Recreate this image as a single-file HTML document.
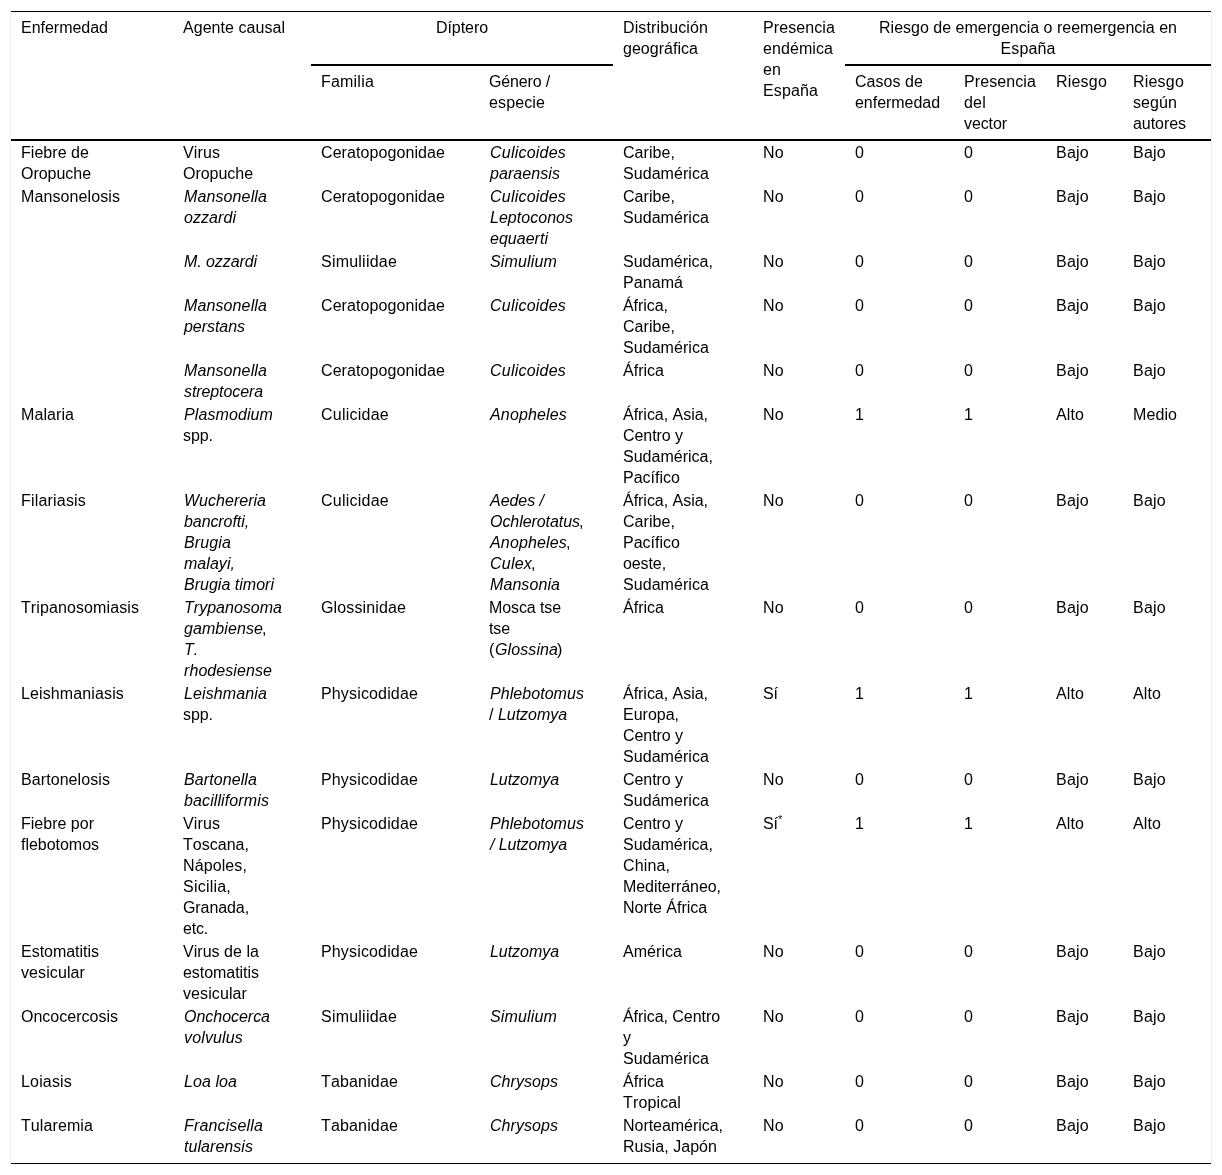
<!DOCTYPE html>
<html lang="es">
<head>
<meta charset="utf-8">
<title>Tabla</title>
<style>
html,body{margin:0;padding:0;background:#fff;}
body{width:1222px;height:1175px;overflow:hidden;font-family:"Liberation Sans",Arial,sans-serif;font-size:16px;line-height:21px;color:#000;font-kerning:none;font-variant-ligatures:none;}
table{position:absolute;left:10px;top:11px;width:1202px;border-collapse:separate;border-spacing:0;table-layout:fixed;border-left:1px solid #eee;border-right:1px solid #eee;}
th,td{font-weight:normal;text-align:left;vertical-align:top;padding:1px 5px 1px 10px;white-space:nowrap;}
thead th{padding-top:5px;padding-bottom:5px;}
thead tr.h1 th{border-top:1px solid #000;}
thead tr.h1 th.grp{text-align:center;padding-left:8px;padding-right:8px;border-bottom:2px solid #000;}
thead tr.h1 th.rs{border-bottom:2px solid #000;}
thead tr.h2 th{border-bottom:2px solid #000;}
tbody tr:last-child td{padding-bottom:6px;border-bottom:1px solid #000;}
i{font-style:italic;position:relative;left:1px;}
sup{font-size:11px;line-height:0;vertical-align:baseline;position:relative;top:-6.4px;}

</style>
</head>
<body>
<table>
<colgroup>
<col style="width:162px"><col style="width:138px"><col style="width:168px"><col style="width:134px"><col style="width:140px"><col style="width:92px"><col style="width:109px"><col style="width:92px"><col style="width:77px"><col style="width:88px">
</colgroup>
<thead>
<tr class="h1">
<th class="rs" rowspan="2"><span style="letter-spacing:-0.016px">Enfermedad</span></th>
<th class="rs" rowspan="2"><span style="letter-spacing:0.046px">Agente causal</span></th>
<th class="grp" colspan="2"><span style="letter-spacing:-0.067px">Díptero</span></th>
<th class="rs" rowspan="2"><span style="letter-spacing:0.118px">Distribución</span><br><span style="letter-spacing:0.028px">geográfica</span></th>
<th class="rs" rowspan="2"><span style="letter-spacing:0.095px">Presencia</span><br><span style="letter-spacing:0.078px">endémica</span><br><span style="letter-spacing:0.102px">en</span><br><span style="letter-spacing:0.122px">España</span></th>
<th class="grp" colspan="4">Riesgo de emergencia o reemergencia en<br><span style="letter-spacing:0.122px">España</span></th>
</tr>
<tr class="h2">
<th><span style="letter-spacing:0.205px">Familia</span></th>
<th><span style="letter-spacing:-0.157px">Género /</span><br><span style="letter-spacing:0.122px">especie</span></th>
<th><span style="letter-spacing:0.051px">Casos de</span><br><span style="letter-spacing:-0.039px">enfermedad</span></th>
<th><span style="letter-spacing:0.095px">Presencia</span><br><span style="letter-spacing:0.216px">del</span><br><span style="letter-spacing:-0.095px">vector</span></th>
<th><span style="letter-spacing:0.199px">Riesgo</span></th>
<th><span style="letter-spacing:0.199px">Riesgo</span><br><span style="letter-spacing:0.081px">según</span><br><span style="letter-spacing:-0.052px">autores</span></th>
</tr>
</thead>
<tbody>
<tr><td><span style="letter-spacing:0.045px">Fiebre de</span><br><span style="letter-spacing:-0.033px">Oropuche</span></td><td><span style="letter-spacing:0.109px">Virus</span><br><span style="letter-spacing:-0.033px">Oropuche</span></td><td><span style="letter-spacing:0.082px">Ceratopogonidae</span></td><td><i style="letter-spacing:0.219px">Culicoides</i><br><i style="letter-spacing:0.069px">paraensis</i></td><td><span style="letter-spacing:0.060px">Caribe,</span><br><span style="letter-spacing:0.062px">Sudamérica</span></td><td><span style="letter-spacing:0.273px">No</span></td><td><span style="letter-spacing:0.102px">0</span></td><td><span style="letter-spacing:0.102px">0</span></td><td><span style="letter-spacing:0.244px">Bajo</span></td><td><span style="letter-spacing:0.244px">Bajo</span></td></tr>
<tr><td><span style="letter-spacing:0.098px">Mansonelosis</span></td><td><i style="letter-spacing:0.117px">Mansonella</i><br><i style="letter-spacing:0.060px">ozzardi</i></td><td><span style="letter-spacing:0.082px">Ceratopogonidae</span></td><td><i style="letter-spacing:0.219px">Culicoides</i><br><i style="letter-spacing:0.027px">Leptoconos</i><br><i style="letter-spacing:0.022px">equaerti</i></td><td><span style="letter-spacing:0.060px">Caribe,</span><br><span style="letter-spacing:0.062px">Sudamérica</span></td><td><span style="letter-spacing:0.273px">No</span></td><td><span style="letter-spacing:0.102px">0</span></td><td><span style="letter-spacing:0.102px">0</span></td><td><span style="letter-spacing:0.244px">Bajo</span></td><td><span style="letter-spacing:0.244px">Bajo</span></td></tr>
<tr><td></td><td><i style="letter-spacing:-0.080px">M. ozzardi</i></td><td><span style="letter-spacing:0.219px">Simuliidae</span></td><td><i style="letter-spacing:0.151px">Simulium</i></td><td><span style="letter-spacing:0.016px">Sudamérica,</span><br><span style="letter-spacing:0.068px">Panamá</span></td><td><span style="letter-spacing:0.273px">No</span></td><td><span style="letter-spacing:0.102px">0</span></td><td><span style="letter-spacing:0.102px">0</span></td><td><span style="letter-spacing:0.244px">Bajo</span></td><td><span style="letter-spacing:0.244px">Bajo</span></td></tr>
<tr><td></td><td><i style="letter-spacing:0.117px">Mansonella</i><br><i style="letter-spacing:-0.046px">perstans</i></td><td><span style="letter-spacing:0.082px">Ceratopogonidae</span></td><td><i style="letter-spacing:0.219px">Culicoides</i></td><td><span style="letter-spacing:-0.049px">África,</span><br><span style="letter-spacing:0.060px">Caribe,</span><br><span style="letter-spacing:0.062px">Sudamérica</span></td><td><span style="letter-spacing:0.273px">No</span></td><td><span style="letter-spacing:0.102px">0</span></td><td><span style="letter-spacing:0.102px">0</span></td><td><span style="letter-spacing:0.244px">Bajo</span></td><td><span style="letter-spacing:0.244px">Bajo</span></td></tr>
<tr><td></td><td><i style="letter-spacing:0.117px">Mansonella</i><br><i style="letter-spacing:-0.094px">streptocera</i></td><td><span style="letter-spacing:0.082px">Ceratopogonidae</span></td><td><i style="letter-spacing:0.219px">Culicoides</i></td><td><span style="letter-spacing:0.017px">África</span></td><td><span style="letter-spacing:0.273px">No</span></td><td><span style="letter-spacing:0.102px">0</span></td><td><span style="letter-spacing:0.102px">0</span></td><td><span style="letter-spacing:0.244px">Bajo</span></td><td><span style="letter-spacing:0.244px">Bajo</span></td></tr>
<tr><td><span style="letter-spacing:0.077px">Malaria</span></td><td><i style="letter-spacing:0.097px">Plasmodium</i><br><span style="letter-spacing:-0.061px">spp.</span></td><td><span style="letter-spacing:0.243px">Culicidae</span></td><td><i style="letter-spacing:0.154px">Anopheles</i></td><td><span style="letter-spacing:-0.028px">África, Asia,</span><br><span style="letter-spacing:-0.059px">Centro y</span><br><span style="letter-spacing:0.016px">Sudamérica,</span><br><span style="letter-spacing:0.011px">Pacífico</span></td><td><span style="letter-spacing:0.273px">No</span></td><td><span style="letter-spacing:0.102px">1</span></td><td><span style="letter-spacing:0.102px">1</span></td><td><span style="letter-spacing:0.107px">Alto</span></td><td><span style="letter-spacing:0.084px">Medio</span></td></tr>
<tr><td><span style="letter-spacing:0.188px">Filariasis</span></td><td><i style="letter-spacing:0.020px">Wuchereria</i><br><i style="letter-spacing:-0.081px">bancrofti,</i><br><i style="letter-spacing:0.125px">Brugia</i><br><i style="letter-spacing:0.046px">malayi,</i><br><i style="letter-spacing:0.015px">Brugia timori</i></td><td><span style="letter-spacing:0.243px">Culicidae</span></td><td><i style="letter-spacing:-0.037px">Aedes /</i><br><i style="letter-spacing:-0.059px">Ochlerotatus</i><span style="letter-spacing:-0.445px">,</span><br><i style="letter-spacing:0.154px">Anopheles</i><span style="letter-spacing:-0.445px">,</span><br><i style="letter-spacing:0.219px">Culex</i><span style="letter-spacing:-0.445px">,</span><br><i style="letter-spacing:0.078px">Mansonia</i></td><td><span style="letter-spacing:-0.028px">África, Asia,</span><br><span style="letter-spacing:0.060px">Caribe,</span><br><span style="letter-spacing:0.011px">Pacífico</span><br><span style="letter-spacing:-0.098px">oeste,</span><br><span style="letter-spacing:0.062px">Sudamérica</span></td><td><span style="letter-spacing:0.273px">No</span></td><td><span style="letter-spacing:0.102px">0</span></td><td><span style="letter-spacing:0.102px">0</span></td><td><span style="letter-spacing:0.244px">Bajo</span></td><td><span style="letter-spacing:0.244px">Bajo</span></td></tr>
<tr><td><span style="letter-spacing:0.101px">Tripanosomiasis</span></td><td><i style="letter-spacing:0.016px">Trypanosoma</i><br><i style="letter-spacing:0.081px">gambiense</i><span style="letter-spacing:-0.445px">,</span><br><i style="letter-spacing:-0.109px">T.</i><br><i style="letter-spacing:0.075px">rhodesiense</i></td><td><span style="letter-spacing:0.127px">Glossinidae</span></td><td><span style="letter-spacing:-0.102px">Mosca tse</span><br><span style="letter-spacing:-0.115px">tse</span><br><span style="letter-spacing:-0.328px">(</span><i style="letter-spacing:0.094px">Glossina</i><span style="letter-spacing:-0.328px">)</span></td><td><span style="letter-spacing:0.017px">África</span></td><td><span style="letter-spacing:0.273px">No</span></td><td><span style="letter-spacing:0.102px">0</span></td><td><span style="letter-spacing:0.102px">0</span></td><td><span style="letter-spacing:0.244px">Bajo</span></td><td><span style="letter-spacing:0.244px">Bajo</span></td></tr>
<tr><td><span style="letter-spacing:0.124px">Leishmaniasis</span></td><td><i style="letter-spacing:0.117px">Leishmania</i><br><span style="letter-spacing:-0.061px">spp.</span></td><td><span style="letter-spacing:0.152px">Physicodidae</span></td><td><i style="letter-spacing:0.055px">Phlebotomus</i><br><span style="letter-spacing:-0.445px">/ </span><i style="letter-spacing:-0.046px">Lutzomya</i></td><td><span style="letter-spacing:-0.028px">África, Asia,</span><br><span style="letter-spacing:-0.006px">Europa,</span><br><span style="letter-spacing:-0.059px">Centro y</span><br><span style="letter-spacing:0.062px">Sudamérica</span></td><td><span style="letter-spacing:-0.059px">Sí</span></td><td><span style="letter-spacing:0.102px">1</span></td><td><span style="letter-spacing:0.102px">1</span></td><td><span style="letter-spacing:0.107px">Alto</span></td><td><span style="letter-spacing:0.107px">Alto</span></td></tr>
<tr><td><span style="letter-spacing:0.079px">Bartonelosis</span></td><td><i style="letter-spacing:0.095px">Bartonella</i><br><i style="letter-spacing:0.110px">bacilliformis</i></td><td><span style="letter-spacing:0.152px">Physicodidae</span></td><td><i style="letter-spacing:-0.046px">Lutzomya</i></td><td><span style="letter-spacing:-0.059px">Centro y</span><br><span style="letter-spacing:0.062px">Sudámerica</span></td><td><span style="letter-spacing:0.273px">No</span></td><td><span style="letter-spacing:0.102px">0</span></td><td><span style="letter-spacing:0.102px">0</span></td><td><span style="letter-spacing:0.244px">Bajo</span></td><td><span style="letter-spacing:0.244px">Bajo</span></td></tr>
<tr><td><span style="letter-spacing:0.008px">Fiebre por</span><br><span style="letter-spacing:-0.027px">flebotomos</span></td><td><span style="letter-spacing:0.109px">Virus</span><br><span style="letter-spacing:0.023px">Toscana,</span><br><span style="letter-spacing:0.106px">Nápoles,</span><br><span style="letter-spacing:0.221px">Sicilia,</span><br><span style="letter-spacing:-0.089px">Granada,</span><br><span style="letter-spacing:-0.197px">etc.</span></td><td><span style="letter-spacing:0.152px">Physicodidae</span></td><td><i style="letter-spacing:0.055px">Phlebotomus</i><br><i style="letter-spacing:-0.126px">/ Lutzomya</i></td><td><span style="letter-spacing:-0.059px">Centro y</span><br><span style="letter-spacing:0.016px">Sudamérica,</span><br><span style="letter-spacing:0.125px">China,</span><br><span style="letter-spacing:-0.055px">Mediterráneo,</span><br><span style="letter-spacing:-0.039px">Norte África</span></td><td><span style="letter-spacing:-0.059px">Sí</span><sup>*</sup></td><td><span style="letter-spacing:0.102px">1</span></td><td><span style="letter-spacing:0.102px">1</span></td><td><span style="letter-spacing:0.107px">Alto</span></td><td><span style="letter-spacing:0.107px">Alto</span></td></tr>
<tr><td><span style="letter-spacing:-0.022px">Estomatitis</span><br><span style="letter-spacing:0.096px">vesicular</span></td><td><span style="letter-spacing:0.037px">Virus de la</span><br><span style="letter-spacing:-0.043px">estomatitis</span><br><span style="letter-spacing:0.096px">vesicular</span></td><td><span style="letter-spacing:0.152px">Physicodidae</span></td><td><i style="letter-spacing:-0.046px">Lutzomya</i></td><td><span style="letter-spacing:0.046px">América</span></td><td><span style="letter-spacing:0.273px">No</span></td><td><span style="letter-spacing:0.102px">0</span></td><td><span style="letter-spacing:0.102px">0</span></td><td><span style="letter-spacing:0.244px">Bajo</span></td><td><span style="letter-spacing:0.244px">Bajo</span></td></tr>
<tr><td><span style="letter-spacing:0.007px">Oncocercosis</span></td><td><i style="letter-spacing:-0.027px">Onchocerca</i><br><i style="letter-spacing:0.149px">volvulus</i></td><td><span style="letter-spacing:0.219px">Simuliidae</span></td><td><i style="letter-spacing:0.151px">Simulium</i></td><td><span style="letter-spacing:-0.058px">África, Centro</span><br>y<br><span style="letter-spacing:0.062px">Sudamérica</span></td><td><span style="letter-spacing:0.273px">No</span></td><td><span style="letter-spacing:0.102px">0</span></td><td><span style="letter-spacing:0.102px">0</span></td><td><span style="letter-spacing:0.244px">Bajo</span></td><td><span style="letter-spacing:0.244px">Bajo</span></td></tr>
<tr><td><span style="letter-spacing:0.171px">Loiasis</span></td><td><i style="letter-spacing:0.073px">Loa loa</i></td><td><span style="letter-spacing:0.154px">Tabanidae</span></td><td><i style="letter-spacing:0.053px">Chrysops</i></td><td><span style="letter-spacing:0.017px">África</span><br><span style="letter-spacing:0.137px">Tropical</span></td><td><span style="letter-spacing:0.273px">No</span></td><td><span style="letter-spacing:0.102px">0</span></td><td><span style="letter-spacing:0.102px">0</span></td><td><span style="letter-spacing:0.244px">Bajo</span></td><td><span style="letter-spacing:0.244px">Bajo</span></td></tr>
<tr><td><span style="letter-spacing:0.096px">Tularemia</span></td><td><i style="letter-spacing:0.149px">Francisella</i><br><i style="letter-spacing:0.052px">tularensis</i></td><td><span style="letter-spacing:0.154px">Tabanidae</span></td><td><i style="letter-spacing:0.053px">Chrysops</i></td><td><span style="letter-spacing:-0.037px">Norteamérica,</span><br><span style="letter-spacing:0.051px">Rusia, Japón</span></td><td><span style="letter-spacing:0.273px">No</span></td><td><span style="letter-spacing:0.102px">0</span></td><td><span style="letter-spacing:0.102px">0</span></td><td><span style="letter-spacing:0.244px">Bajo</span></td><td><span style="letter-spacing:0.244px">Bajo</span></td></tr>
</tbody>
</table>
</body>
</html>
